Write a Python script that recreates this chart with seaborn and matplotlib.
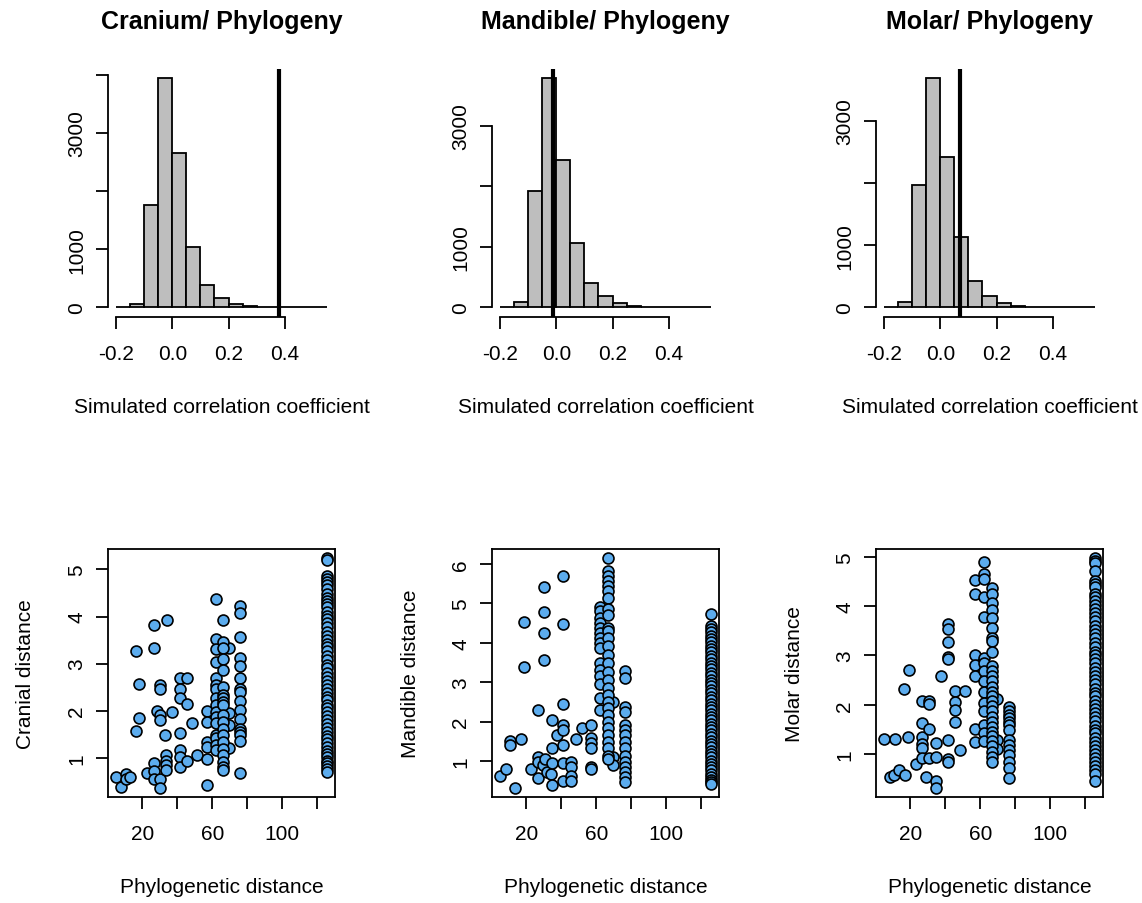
import matplotlib
matplotlib.use("Agg")
import matplotlib.pyplot as plt
import numpy as np
import pandas as pd
import seaborn as sns

# ---------------------------------------------------------------------------
# Null distributions of the correlation coefficient (counts per 0.05 bin)
# ---------------------------------------------------------------------------
bin_edges = [-0.20, -0.15, -0.10, -0.05, 0.00, 0.05, 0.10, 0.15,
             0.20, 0.25, 0.30, 0.35, 0.40, 0.45, 0.50, 0.55]
cranium_counts = [0, 60, 1753, 3948, 2661, 1029, 391, 161, 52, 17, 6, 2, 1, 1, 1]
mandible_counts = [0, 83, 1928, 3796, 2442, 1066, 403, 193, 66, 28, 10, 4, 2, 1, 1]
molar_counts = [0, 91, 1962, 3694, 2425, 1124, 419, 177, 70, 27, 10, 4, 2, 1, 1]

# observed correlation for each data set
cranium_observed = 0.38
mandible_observed = -0.012
molar_observed = 0.068

hist_titles = ["Cranium/ Phylogeny", "Mandible/ Phylogeny", "Molar/ Phylogeny"]
hist_xticks = [-0.2, 0.0, 0.2, 0.4]
hist_xticklabels = ["-0.2", "0.0", "0.2", "0.4"]

# ---------------------------------------------------------------------------
# Pairwise distances: (phylogenetic distance, morphological distance)
# ---------------------------------------------------------------------------
cranial_pairs = [
    (5.1, 0.58), (7.9, 0.38), (10.8, 0.65), (10.8, 0.54), (13.1, 0.60),
    (16.5, 3.27), (16.5, 1.56), (18.3, 2.57), (18.3, 1.84), (22.5, 0.67),
    (26.8, 3.83), (26.8, 3.33), (26.8, 0.89), (26.8, 0.71), (26.8, 0.55),
    (28.4, 1.99), (30.1, 2.54), (30.1, 2.47), (30.1, 1.90), (30.1, 1.80),
    (30.1, 0.55), (30.1, 0.36), (32.8, 1.48), (33.6, 1.06), (33.6, 0.94),
    (33.6, 0.84), (33.6, 0.73), (34.0, 3.92), (37.1, 1.98), (41.5, 2.69),
    (41.5, 2.46), (41.5, 2.26), (41.5, 1.53), (41.5, 1.17), (41.5, 1.01),
    (41.5, 0.80), (45.4, 2.69), (45.4, 2.15), (45.4, 0.94), (48.2, 1.74),
    (51.4, 1.06), (56.8, 1.99), (56.8, 1.76), (56.8, 1.33), (56.8, 1.23),
    (56.8, 0.98), (56.8, 0.42),
    (69.6, 3.34), (69.6, 1.95), (69.6, 1.69), (69.6, 1.21),
]
cranial_at_62 = [4.37, 3.53, 3.31, 3.03, 2.69, 2.54, 2.47, 2.26, 2.12, 1.98,
                 1.87, 1.73, 1.48, 1.41, 1.26, 1.16]
cranial_at_66 = [3.92, 3.46, 3.33, 3.10, 2.86, 2.51, 2.33, 2.26, 2.19, 2.12,
                 1.90, 1.76, 1.62, 1.48, 1.33, 1.19, 1.05, 0.91, 0.80, 0.73]
cranial_at_76 = [4.22, 4.07, 3.56, 3.11, 2.94, 2.69, 2.47, 2.40, 2.21, 2.01,
                 1.83, 1.62, 1.55, 1.48, 1.35, 0.68]
cranial_at_125 = [5.24, 5.20, 4.86, 4.80, 4.74, 4.66, 4.58, 4.47, 4.40, 4.33,
                  4.27, 4.20, 4.10, 4.02, 3.95, 3.86, 3.78, 3.68, 3.59, 3.50,
                  3.42, 3.35, 3.27, 3.17, 3.08, 2.98, 2.90, 2.80, 2.72, 2.63,
                  2.55, 2.46, 2.38, 2.30, 2.22, 2.13, 2.05, 1.97, 1.88, 1.80,
                  1.72, 1.63, 1.55, 1.47, 1.39, 1.31, 1.23, 1.15, 1.08, 1.01,
                  0.94, 0.88, 0.82, 0.76, 0.70]

mandible_pairs = [
    (5.3, 0.61), (8.6, 0.79), (10.6, 1.50), (10.6, 1.40), (13.5, 0.32),
    (17.3, 1.55), (18.9, 4.52), (18.9, 3.38), (22.9, 0.79), (26.6, 2.29),
    (26.6, 1.10), (26.6, 0.97), (26.6, 0.57), (29.5, 0.89), (30.3, 5.42),
    (30.3, 4.78), (30.3, 4.25), (30.3, 3.56), (30.6, 1.06), (32.0, 0.72),
    (33.9, 0.68), (34.6, 2.04), (34.6, 1.33), (34.6, 0.96), (34.6, 0.38),
    (37.7, 1.67), (41.3, 5.71), (41.3, 4.48), (41.3, 2.46), (41.3, 1.91),
    (41.3, 1.78), (41.3, 1.40), (41.3, 0.96), (41.3, 0.49), (45.5, 0.97),
    (45.5, 0.85), (45.5, 0.63), (45.5, 0.49), (48.2, 1.57), (51.6, 1.85),
    (57.3, 1.91), (57.3, 1.59), (57.3, 1.46), (57.3, 1.32), (57.3, 0.85),
    (57.3, 0.79),
    (69.5, 2.49), (69.5, 1.10), (69.5, 0.89),
]
mandible_at_62 = [4.91, 4.81, 4.64, 4.51, 4.38, 4.25, 4.13, 4.00, 3.87, 3.49,
                  3.32, 3.15, 2.95, 2.59, 2.29]
mandible_at_67 = [6.15, 5.83, 5.70, 5.57, 5.45, 5.32, 5.15, 4.85, 4.72, 4.38,
                  4.30, 4.13, 3.91, 3.70, 3.49, 3.27, 3.06, 2.85, 2.68, 2.51,
                  2.34, 2.17, 2.00, 1.83, 1.66, 1.49, 1.32, 1.14, 1.06]
mandible_at_76 = [3.29, 3.10, 2.38, 2.25, 1.91, 1.78, 1.66, 1.49, 1.32, 1.14,
                  0.97, 0.85, 0.72, 0.59, 0.46]
mandible_at_125 = [4.74, 4.42, 4.35, 4.27, 4.18, 4.10, 4.02, 3.93, 3.85, 3.76,
                   3.67, 3.58, 3.50, 3.42, 3.33, 3.24, 3.15, 3.06, 2.98, 2.90,
                   2.81, 2.72, 2.63, 2.55, 2.46, 2.38, 2.29, 2.20, 2.12, 2.03,
                   1.95, 1.86, 1.78, 1.69, 1.60, 1.52, 1.43, 1.35, 1.26, 1.18,
                   1.09, 1.00, 0.92, 0.84, 0.76, 0.68, 0.60, 0.53, 0.47, 0.42]

molar_pairs = [
    (5.1, 1.31), (8.2, 0.53), (10.5, 0.58), (10.9, 1.30), (13.3, 0.68),
    (16.2, 2.32), (16.8, 0.58), (18.5, 1.35), (19.0, 2.71), (22.9, 0.80),
    (26.7, 2.07), (26.7, 1.63), (26.7, 1.34), (26.7, 1.20), (26.7, 1.12),
    (26.7, 0.92), (29.1, 0.53), (30.5, 2.07), (30.5, 2.02), (30.5, 1.51),
    (30.5, 0.92), (34.5, 1.22), (34.5, 0.94), (34.5, 0.45), (34.5, 0.32),
    (37.3, 2.58), (41.3, 3.64), (41.3, 3.54), (41.3, 3.27), (41.3, 2.97),
    (41.3, 2.92), (41.3, 1.29), (41.3, 0.90), (41.3, 0.85), (45.3, 2.29),
    (45.3, 2.06), (45.3, 1.90), (45.3, 1.66), (48.2, 1.09), (51.4, 2.29),
    (56.8, 4.52), (56.8, 4.25), (56.8, 3.00), (56.8, 2.81), (56.8, 2.59),
    (56.8, 1.51), (56.8, 1.24),
    (69.3, 2.12), (69.3, 1.29), (69.3, 1.10),
]
molar_at_62 = [4.89, 4.64, 4.54, 4.18, 3.77, 2.95, 2.85, 2.68, 2.48, 2.27,
               2.04, 1.87, 1.60, 1.43, 1.26]
molar_at_67 = [4.36, 4.24, 4.07, 3.93, 3.76, 3.56, 3.36, 3.29, 3.08, 2.78,
               2.68, 2.58, 2.48, 2.37, 2.27, 2.17, 2.07, 1.97, 1.87, 1.76,
               1.66, 1.56, 1.46, 1.36, 1.26, 1.16, 1.05, 0.95, 0.85]
molar_at_76 = [1.95, 1.87, 1.80, 1.73, 1.66, 1.60, 1.49, 1.29, 1.19, 1.09,
               0.99, 0.85, 0.72, 0.51]
molar_at_125 = [4.97, 4.92, 4.88, 4.72, 4.50, 4.44, 4.38, 4.25, 4.18, 4.10,
                4.02, 3.95, 3.86, 3.78, 3.70, 3.60, 3.52, 3.43, 3.35, 3.26,
                3.17, 3.08, 3.00, 2.92, 2.84, 2.75, 2.67, 2.58, 2.50, 2.42,
                2.33, 2.25, 2.17, 2.08, 2.00, 1.92, 1.83, 1.75, 1.67, 1.58,
                1.50, 1.42, 1.33, 1.25, 1.17, 1.08, 1.00, 0.92, 0.84, 0.76,
                0.68, 0.60, 0.45]

scatter_ylabels = ["Cranial distance", "Mandible distance", "Molar distance"]
scatter_xticks = [20, 40, 60, 80, 100, 120]
scatter_xticklabels = ["20", "", "60", "", "100", ""]


def pairs_frame(pairs, columns):
    """Collect scattered pairs and the dense columns into one long table."""
    rows = list(pairs)
    for phylo, values in columns:
        rows.extend((phylo, v) for v in values)
    return pd.DataFrame(rows, columns=["phylo", "dist"])


cranial_df = pairs_frame(cranial_pairs, [(62.0, cranial_at_62), (66.4, cranial_at_66),
                                         (75.9, cranial_at_76), (125.5, cranial_at_125)])
mandible_df = pairs_frame(mandible_pairs, [(62.1, mandible_at_62), (66.9, mandible_at_67),
                                           (76.3, mandible_at_76), (125.3, mandible_at_125)])
molar_df = pairs_frame(molar_pairs, [(62.1, molar_at_62), (66.9, molar_at_67),
                                     (76.2, molar_at_76), (125.3, molar_at_125)])

# ---------------------------------------------------------------------------
# Styling
# ---------------------------------------------------------------------------
sns.set_theme(style="ticks")
plt.rcParams["font.family"] = ["Liberation Sans", "DejaVu Sans"]
plt.rcParams["axes.linewidth"] = 1.3
plt.rcParams["xtick.major.width"] = 1.3
plt.rcParams["ytick.major.width"] = 1.3
plt.rcParams["xtick.major.size"] = 8.8
plt.rcParams["ytick.major.size"] = 8.8
plt.rcParams["xtick.labelsize"] = 15
plt.rcParams["ytick.labelsize"] = 15
plt.rcParams["axes.labelsize"] = 15
plt.rcParams["xtick.color"] = "black"
plt.rcParams["ytick.color"] = "black"
plt.rcParams["xtick.labelcolor"] = "black"
plt.rcParams["ytick.labelcolor"] = "black"
plt.rcParams["axes.edgecolor"] = "black"
plt.rcParams["axes.labelcolor"] = "black"
plt.rcParams["axes.titlecolor"] = "black"
plt.rcParams["text.color"] = "black"

BAR_GREY = "#BEBEBE"
POINT_BLUE = "#5CACEE"

fig = plt.figure(figsize=(11.42, 9.04), dpi=100)
W, H = 1142.0, 904.0
col_left = [108, 492, 876]
panel_w = 227
panel_h = 248
top_row_bottom = 317.5
bottom_row_bottom = 798


def add_panel(left_px, bottom_px):
    return fig.add_axes([left_px / W, 1 - bottom_px / H, panel_w / W, panel_h / H])


def style_yticklabels(ax, pad):
    ax.tick_params(axis="y", labelrotation=90, pad=pad)
    for lab in ax.get_yticklabels():
        lab.set_va("center")


# ---- top row: histograms of simulated coefficients -------------------------
hist_sets = [(cranium_counts, cranium_observed),
             (mandible_counts, mandible_observed),
             (molar_counts, molar_observed)]
centers = [(a + b) / 2 for a, b in zip(bin_edges[:-1], bin_edges[1:])]

for i, (counts, observed) in enumerate(hist_sets):
    ax = add_panel(col_left[i], top_row_bottom)
    hist_df = pd.DataFrame({"r": centers, "n": counts})
    sns.histplot(data=hist_df, x="r", weights="n", bins=bin_edges, ax=ax,
                 color=BAR_GREY, edgecolor="black", linewidth=1.3, alpha=1.0)
    cmax = max(counts)
    ax.set_ylim(-0.04 * cmax, 1.04 * cmax)
    span = bin_edges[-1] - bin_edges[0]
    ax.set_xlim(bin_edges[0] - 0.04 * span, bin_edges[-1] + 0.04 * span)
    ax.axvline(observed, color="black", linewidth=3.0, zorder=5)

    top_tick = int(1.04 * cmax // 1000) * 1000
    yt = list(range(0, top_tick + 1, 1000))
    ax.set_yticks(yt)
    ax.set_yticklabels(["" if v in (2000, 4000) else str(v) for v in yt])
    ax.set_xticks(hist_xticks)
    ax.set_xticklabels(hist_xticklabels)
    ax.spines["top"].set_visible(False)
    ax.spines["right"].set_visible(False)
    ax.spines["left"].set_bounds(0, top_tick)
    ax.spines["bottom"].set_bounds(hist_xticks[0], hist_xticks[-1])
    ax.tick_params(axis="x", pad=11)
    style_yticklabels(ax, 7)
    ax.set_ylabel("")
    ax.set_xlabel("Simulated correlation coefficient")
    ax.xaxis.set_label_coords(0.5, -(408 - top_row_bottom) / panel_h)
    ax.xaxis.label.set_va("center")
    ax.set_title(hist_titles[i], fontsize=18, fontweight="bold", pad=29)

# ---- bottom row: morphological vs phylogenetic distance -------------------
scatter_sets = [cranial_df, mandible_df, molar_df]
for i, df in enumerate(scatter_sets):
    ax = add_panel(col_left[i], bottom_row_bottom)
    sns.scatterplot(data=df, x="phylo", y="dist", ax=ax, color=POINT_BLUE,
                    edgecolor="black", linewidth=1.2, s=62, zorder=3)
    ax.margins(x=0.04, y=0.04)
    lo, hi = ax.get_ylim()
    ax.set_yticks([v for v in range(1, 8) if lo <= v <= hi])
    ax.set_xticks(scatter_xticks)
    ax.set_xticklabels(scatter_xticklabels)
    ax.tick_params(axis="x", pad=11)
    style_yticklabels(ax, 7)
    for side in ["top", "right", "left", "bottom"]:
        ax.spines[side].set_visible(True)
    ax.set_xlabel("Phylogenetic distance")
    ax.xaxis.set_label_coords(0.5, -(888 - bottom_row_bottom) / panel_h)
    ax.xaxis.label.set_va("center")
    ax.set_ylabel(scatter_ylabels[i])
    ax.yaxis.set_label_coords(-82 / panel_w, 0.5)
    ax.yaxis.label.set_va("center")

fig.savefig("out.png", dpi=100)
